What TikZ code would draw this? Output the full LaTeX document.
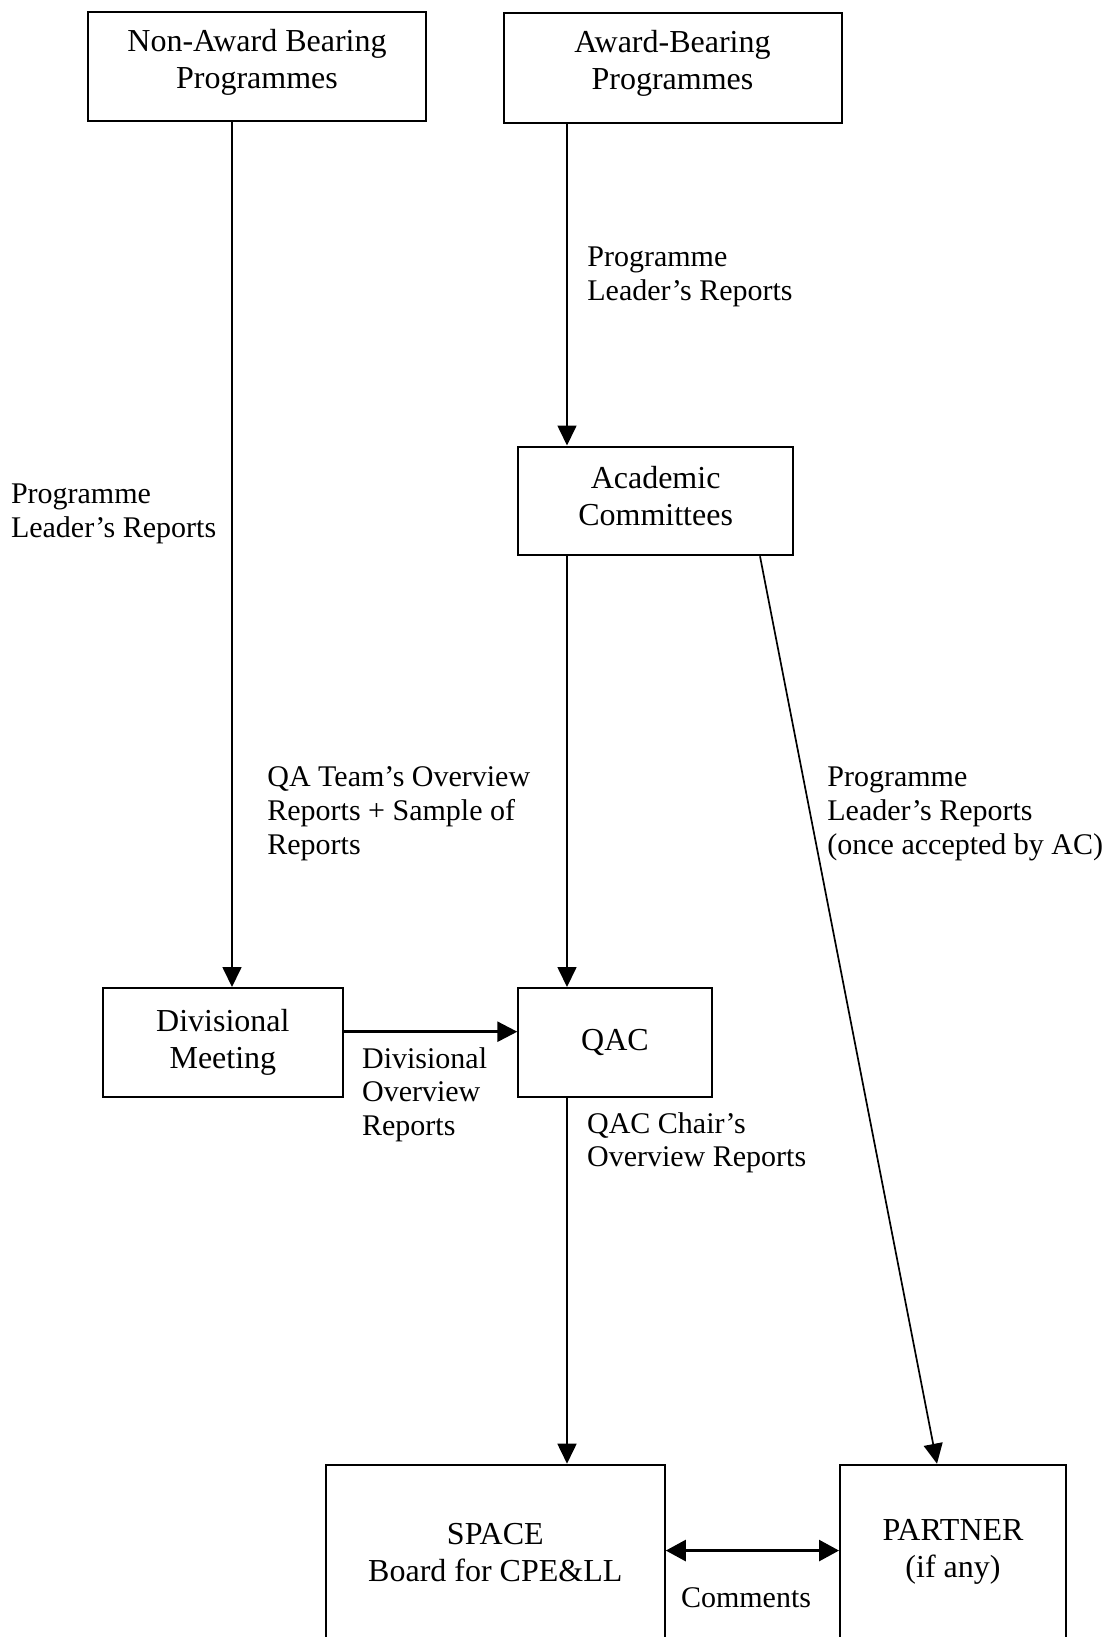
\documentclass[tikz,border=0pt]{standalone}
\usepackage{fontspec}
\setmainfont{Liberation Serif}
\usetikzlibrary{arrows.meta}
\begin{document}
\begin{tikzpicture}[x=0.5pt,y=-0.5pt,
  box/.style={draw, line width=1pt, inner sep=0pt, align=center,
    font=\fontsize{16}{18.5}\selectfont},
  lbl/.style={inner sep=0pt, anchor=base west, align=left,
    font=\fontsize{15}{17}\selectfont},
  arr/.style={line width=0.85pt, -{Triangle[length=10pt,width=9.5pt]}},
  flowarr/.style={line width=1.35pt, -{Triangle[length=10pt,width=10pt]}},
  dblarr/.style={line width=1.35pt,
    {Triangle[length=10pt,width=10.5pt]}-{Triangle[length=10pt,width=10.5pt]}},
]
\useasboundingbox[fill=white] (0,0) rectangle (1109,1637);

% boxes
\node[box, minimum width=169pt, minimum height=54.5pt, text depth=8.5pt] (nab) at (257,67)
  {Non-Award Bearing\\Programmes};
\node[box, minimum width=169pt, minimum height=54.75pt, text depth=8.5pt] (ab) at (672.5,68.25)
  {Award-Bearing\\Programmes};
\node[box, minimum width=137.35pt, minimum height=54.4pt, text depth=5pt] (ac) at (655.6,500.9)
  {Academic\\Committees};
\node[box, minimum width=120.4pt, minimum height=54.5pt] (div) at (222.9,1042.5)
  {Divisional\\Meeting};
\node[box, minimum width=96.7pt, minimum height=54.5pt] (qac) at (615,1042.5)
  {QAC};
\node[box, minimum width=169.5pt, minimum height=87.65pt] (space) at (495.3,1552.35)
  {SPACE\\Board for CPE\&LL};
\node[box, minimum width=113pt, minimum height=87.65pt] (partner) at (953,1552.35)
  {PARTNER\\(if any)};

% x positions of the vertical connectors
\coordinate (xl) at (232,0);
\coordinate (xm) at (567,0);
\coordinate (xd1) at (760,0);
\coordinate (xd2) at (937,0);

% connectors
\draw[arr] (nab.south -| xl) -- (div.north -| xl);
\draw[arr] (ab.south -| xm) -- (ac.north -| xm);
\draw[arr] (ac.south -| xm) -- (qac.north -| xm);
\draw[arr] (qac.south -| xm) -- (space.north -| xm);
\draw[arr] (ac.south -| xd1) -- (partner.north -| xd2);
\draw[flowarr] ([yshift=5.4pt]div.east) -- ([yshift=5.4pt]qac.west);
\draw[dblarr] ([yshift=0.9pt]space.east) -- ([yshift=0.9pt]partner.west);

% connector labels (placed by the baseline of their last line)
\node[lbl] (l1) at (10.6,537.5) {Programme\\Leader’s Reports};
\node[lbl] (l2) at (587,300) {Programme\\Leader’s Reports};
\node[lbl] (l3) at (267,854.6) {QA Team’s Overview\\Reports + Sample of\\Reports};
\node[lbl] (l4) at (827,854.6) {Programme\\Leader’s Reports\\(once accepted by AC)};
\node[lbl, font=\fontsize{15}{16.7}\selectfont] (l5) at (361.7,1135)
  {Divisional\\Overview\\Reports};
\node[lbl, font=\fontsize{15}{16.5}\selectfont] (l6) at (586.7,1166)
  {QAC Chair’s\\Overview Reports};
\node[lbl, anchor=base] (l7) at (746,1607.6) {Comments};
\end{tikzpicture}
\end{document}
